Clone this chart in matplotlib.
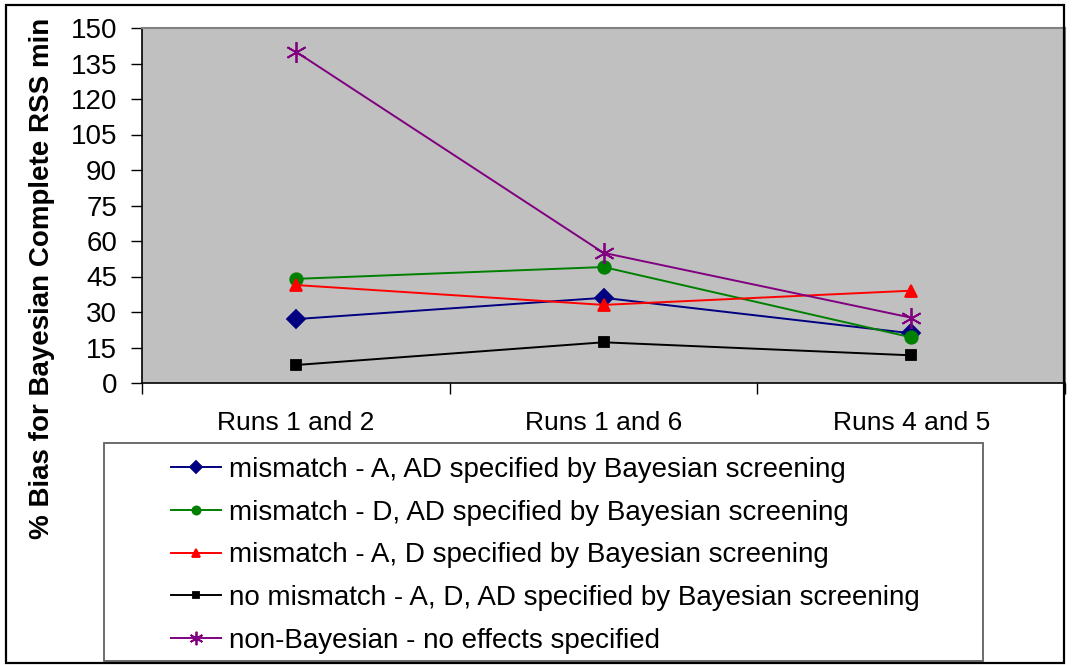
import matplotlib.pyplot as plt
from matplotlib.patches import Rectangle

plt.rcParams['font.family'] = ['Liberation Sans', 'DejaVu Sans']

runs = ["Runs 1 and 2", "Runs 1 and 6", "Runs 4 and 5"]

bias_a_ad = [27.0, 36.0, 21.0]
bias_d_ad = [44.0, 49.0, 19.3]
bias_a_d = [41.4, 33.0, 39.0]
bias_no_mismatch = [7.6, 17.2, 11.7]
bias_non_bayes = [140.0, 55.0, 27.6]

labels = [
    "mismatch - A, AD specified by Bayesian screening",
    "mismatch - D, AD specified by Bayesian screening",
    "mismatch - A, D specified by Bayesian screening",
    "no mismatch - A, D, AD specified by Bayesian screening",
    "non-Bayesian - no effects specified",
]

fig = plt.figure(figsize=(10.73, 6.65), dpi=100)
ax = fig.add_axes([142 / 1073, 1 - 383 / 665, 923 / 1073, 355 / 665])
ax.set_facecolor("#C0C0C0")

x = list(range(len(runs)))
series = [
    (bias_a_ad, "#000080", "D", 9),
    (bias_d_ad, "#008000", "o", 9),
    (bias_a_d, "#FF0000", "^", 8),
    (bias_no_mismatch, "#000000", "s", 7.5),
    (bias_non_bayes, "#800080", (6, 2, 0), 15),
]
for (vals, col, mk, ms), lab in zip(series, labels):
    ax.plot(x, vals, color=col, lw=1.4, marker=mk, markersize=ms,
            markeredgecolor=col, markerfacecolor=col, markeredgewidth=1.3,
            label=lab)

ax.set_xlim(-0.5, len(runs) - 0.5)
ax.set_ylim(0, 150)
ax.set_yticks(range(0, 151, 15))
ax.set_xticks([i - 0.5 for i in range(len(runs) + 1)])
ax.set_xticklabels([])
ax.set_xticks(x, minor=True)
ax.set_xticklabels(runs, minor=True)
ax.tick_params(axis="x", which="minor", length=0, pad=20, labelsize=19)
ax.tick_params(axis="x", which="major", length=8, width=1, direction="out")
ax.tick_params(axis="y", length=8, width=1, direction="out", pad=10, labelsize=20)

for side in ["top", "right"]:
    ax.spines[side].set_color("#808080")
    ax.spines[side].set_linewidth(1.5)
for side in ["left", "bottom"]:
    ax.spines[side].set_color("black")
    ax.spines[side].set_linewidth(1.2)

fig.text(42 / 1073, 0.581, "% Bias for Bayesian Complete RSS min", rotation=90,
         ha="center", va="center", fontsize=20, fontweight="bold")

# legend box below the axes
fig.patches.append(Rectangle((104 / 1073, 1 - 661 / 665), 879 / 1073, 218 / 665,
                             transform=fig.transFigure, fill=False,
                             edgecolor="#606060", lw=1.3))
leg = fig.legend(loc="upper left", bbox_to_anchor=(171 / 1073, 1 - 457 / 665),
                 frameon=False, fontsize=20, handlelength=1.8,
                 handletextpad=0.29, labelspacing=0.6, borderpad=0,
                 borderaxespad=0, markerscale=0.65)

# outer border
fig.patches.append(Rectangle((6 / 1073, 1 - 663 / 665), 1058 / 1073, 658 / 665,
                             transform=fig.transFigure, fill=False,
                             edgecolor="black", lw=1.6))

fig.savefig("out.png", dpi=100)
